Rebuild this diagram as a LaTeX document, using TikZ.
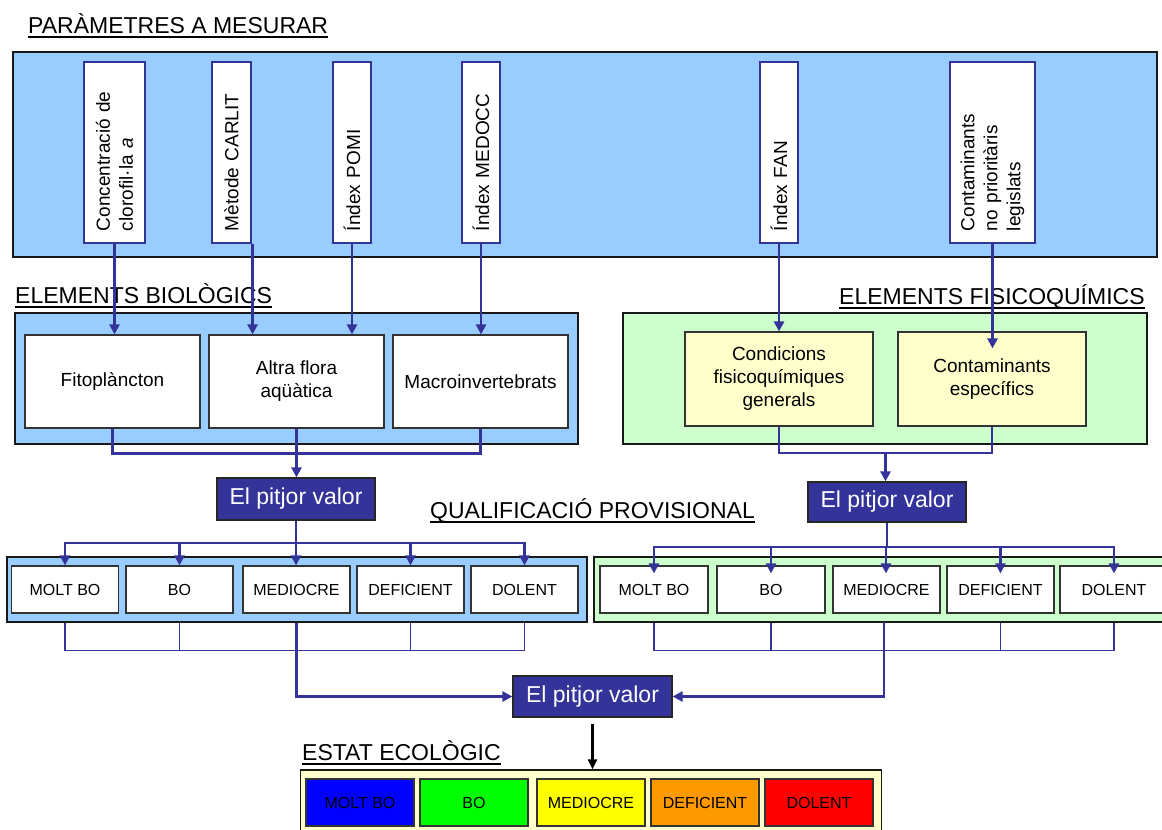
\documentclass[tikz,border=0pt]{standalone}
\usepackage{fontspec}
\setmainfont{Liberation Sans}
\usetikzlibrary{arrows.meta}
\definecolor{lblue}{HTML}{99CCFF}
\definecolor{lgreen}{HTML}{CCFFCC}
\definecolor{lyellow}{HTML}{FFFFCC}
\definecolor{navy}{HTML}{333399}
\definecolor{cblue}{HTML}{0000FF}
\definecolor{cgreen}{HTML}{00FF00}
\definecolor{cyellow}{HTML}{FFFF00}
\definecolor{corange}{HTML}{FF9900}
\definecolor{cred}{HTML}{FF0000}
\newcommand\fsz[2]{\fontsize{#1}{#2}\selectfont}
\begin{document}
\begin{tikzpicture}[x=1pt,y=-1pt,
  panel/.style={draw=black!90, line width=1.3pt, inner sep=0pt},
  param/.style={draw=navy, line width=1.1pt, fill=white, rotate=90,
     minimum width=181pt, text width=157pt, inner xsep=12pt, inner ysep=0pt,
     align=left, font=\fsz{19}{23}},
  ibox/.style={draw=black!80, line width=1.2pt, inner sep=0pt, align=center, font=\fsz{19}{23}},
  qbox/.style={draw=black!80, line width=1.2pt, fill=white, inner sep=0pt,
     minimum width=107pt, minimum height=47pt, font=\fsz{16}{19}},
  evbox/.style={draw=black!85, line width=1.2pt, fill=navy, text=white, inner sep=0pt,
     minimum width=158pt, font=\fsz{23}{27}},
  ttl/.style={anchor=base west, inner sep=0pt, font=\fsz{23}{27}},
  uline/.style={draw=black, line width=1.6pt},
  conn/.style={draw=navy, line width=2.6pt},
  arr/.style={conn, -{Triangle[length=10pt,width=10pt]}},
  thinl/.style={draw=navy, line width=1.2pt},
  barr/.style={draw=black, line width=2.2pt, -{Triangle[length=10pt,width=9pt]}}
]
\useasboundingbox (0,0) rectangle (1162,830);
\clip (0,0) rectangle (1162,830);

% ---------- titles ----------
\node[ttl] (t1) at (28,33) {PARÀMETRES A MESURAR};
\draw[uline] ([yshift=-4pt]t1.base west) -- ([yshift=-4pt]t1.base east);
\node[ttl] (t2) at (15,303) {ELEMENTS BIOLÒGICS};
\draw[uline] ([yshift=-4pt]t2.base west) -- ([yshift=-4pt]t2.base east);
\node[ttl] (t3) at (839,304) {ELEMENTS FISICOQUÍMICS};
\draw[uline] ([yshift=-4pt]t3.base west) -- ([yshift=-4pt]t3.base east);
\node[ttl] (t4) at (430,518) {QUALIFICACIÓ PROVISIONAL};
\draw[uline] ([yshift=-4pt]t4.base west) -- ([yshift=-4pt]t4.base east);
\node[ttl] (t5) at (302,760) {ESTAT ECOLÒGIC};
\draw[uline] ([yshift=-4pt]t5.base west) -- ([yshift=-4pt]t5.base east);

% ---------- panels ----------
\node[panel, fill=lblue, minimum width=1144pt, minimum height=205pt] (top) at (585,154.5) {};
\node[panel, fill=lblue, minimum width=563pt, minimum height=131pt] (bio) at (296.5,378.5) {};
\node[panel, fill=lgreen, minimum width=524pt, minimum height=131pt] (fq) at (885,378.5) {};
\node[panel, fill=lblue, minimum width=580pt, minimum height=65pt] (q1) at (297,589.5) {};
\node[panel, fill=lgreen, minimum width=576pt, minimum height=65pt] (q2) at (882,589.5) {};
\node[panel, fill=lyellow, minimum width=581pt, minimum height=68pt] (es) at (591,804) {};

% ---------- parameters ----------
\node[param, minimum height=61pt] (p1) at (114.5,152.5) {Concentració de\\clorofil·la \textit{a}};
\node[param, minimum height=39pt] (p2) at (231.5,152.5) {Mètode CARLIT};
\node[param, minimum height=38pt] (p3) at (352,152.5) {Índex POMI};
\node[param, minimum height=38pt] (p4) at (481,152.5) {Índex MEDOCC};
\node[param, minimum height=38pt] (p5) at (779,152.5) {Índex FAN};
\node[param, minimum height=85pt] (p6) at (992.5,152.5) {Contaminants\\no prioritàris\\legislats};

% ---------- biological elements ----------
\node[ibox, fill=white, minimum width=175pt, minimum height=93pt] (b1) at (112.5,381.5) {Fitoplàncton};
\node[ibox, fill=white, minimum width=175pt, minimum height=93pt] (b2) at (296.5,381.5) {Altra flora\\aqüàtica};
\node[ibox, fill=white, minimum width=175pt, minimum height=93pt] (b3) at (480.5,381.5) {Macroinvertebrats};

% ---------- physico-chemical elements ----------
\node[ibox, fill=lyellow, minimum width=188pt, minimum height=94pt] (c1) at (779,379) {Condicions\\fisicoquímiques\\generals};
\node[ibox, fill=lyellow, minimum width=188pt, minimum height=94pt] (c2) at (992,379) {Contaminants\\específics};

% ---------- worst value boxes ----------
\node[evbox, minimum height=42pt] (ev1) at (296,499) {El pitjor valor};
\node[evbox, minimum height=40pt] (ev2) at (887,502) {El pitjor valor};
\node[evbox, minimum width=159pt, minimum height=41pt] (ev3) at (592.5,696.5) {El pitjor valor};

% ---------- provisional qualification rows ----------
\node[qbox] (qa1) at (65,589.5) {MOLT BO};
\node[qbox] (qa2) at (179.5,589.5) {BO};
\node[qbox] (qa3) at (296.5,589.5) {MEDIOCRE};
\node[qbox] (qa4) at (410.5,589.5) {DEFICIENT};
\node[qbox] (qa5) at (524.5,589.5) {DOLENT};

\node[qbox, minimum width=108pt] (qb1) at (654,589.5) {MOLT BO};
\node[qbox, minimum width=108pt] (qb2) at (771,589.5) {BO};
\node[qbox] (qb3) at (886.5,589.5) {MEDIOCRE};
\node[qbox] (qb4) at (1000.5,589.5) {DEFICIENT};
\node[qbox, minimum width=108pt] (qb5) at (1114,589.5) {DOLENT};

% ---------- ecological status ----------
\node[qbox, minimum width=108pt, fill=cblue] (e1) at (360,802.5) {MOLT BO};
\node[qbox, minimum width=108pt, fill=cgreen] (e2) at (474,802.5) {BO};
\node[qbox, minimum width=108pt, fill=cyellow] (e3) at (591,802.5) {MEDIOCRE};
\node[qbox, minimum width=108pt, fill=corange] (e4) at (705,802.5) {DEFICIENT};
\node[qbox, minimum width=108pt, fill=cred] (e5) at (819,802.5) {DOLENT};

% ---------- connectors: parameters -> elements ----------
\draw[arr] (p1.west) -- (p1.west |- b1.north);
\draw[arr] ([xshift=1pt]p2.south west) -- ([xshift=1pt]p2.south west |- b2.north);
\draw[arr] (p3.west) -- (p3.west |- b2.north);
\draw[arr] (p4.west) -- (p4.west |- b3.north);
\draw[arr] (p5.west) -- (p5.west |- c1.north);
\coordinate (c2in) at ([yshift=-17pt]c2.north);
\draw[arr] (p6.west) -- (p6.west |- c2in);

% ---------- elements -> worst value ----------
\draw[conn] (b1.south) -- ++(0,25) -| (b3.south);
\draw[arr] (b2.south) -- (b2.south |- ev1.north);
\coordinate (m2) at (885.5,453);
\draw[conn] (c1.south) -- (c1.south |- m2) -| (c2.south);
\draw[arr] (m2) -- (m2 |- ev2.north);

% ---------- worst value -> provisional rows ----------
\coordinate (d1) at (296,543);
\draw[conn] (ev1.south) -- (d1);
\draw[arr] (d1) -- (d1 |- qa3.north);
\draw[arr] (d1) -| (qa1.north);
\draw[arr] (d1) -| (qa2.north);
\draw[arr] (d1) -| (qa4.north);
\draw[arr] (d1) -| (qa5.north);

\coordinate (d2) at (886,547);
\draw[conn] (ev2.south) -- (ev2.south |- d2);
\draw[arr] (d2) -- ([yshift=-8pt]d2 |- qb3.north);
\draw[arr] (d2) -| ([yshift=-8pt]qb1.north);
\draw[arr] (d2) -| ([yshift=-8pt]qb2.north);
\draw[arr] (d2) -| ([yshift=-8pt]qb4.north);
\draw[arr] (d2) -| ([yshift=-8pt]qb5.north);

% ---------- provisional rows -> final worst value ----------
\draw[thinl] (qa1 |- q1.south) -- ++(0,28) -| (qa5 |- q1.south);
\draw[thinl] (qa2 |- q1.south) -- ++(0,28);
\draw[thinl] (qa4 |- q1.south) -- ++(0,28);
\draw[arr] (qa3 |- q1.south) |- (ev3.west);

\draw[thinl] (qb1 |- q2.south) -- ++(0,28) -| (qb5 |- q2.south);
\draw[thinl] (qb2 |- q2.south) -- ++(0,28);
\draw[thinl] (qb4 |- q2.south) -- ++(0,28);
\coordinate (r2) at (884,622);
\draw[arr] (r2) |- (ev3.east);

% ---------- final -> ecological status ----------
\draw[barr] ([yshift=-6pt]ev3.south) -- (ev3.south |- es.north);
\end{tikzpicture}
\end{document}
